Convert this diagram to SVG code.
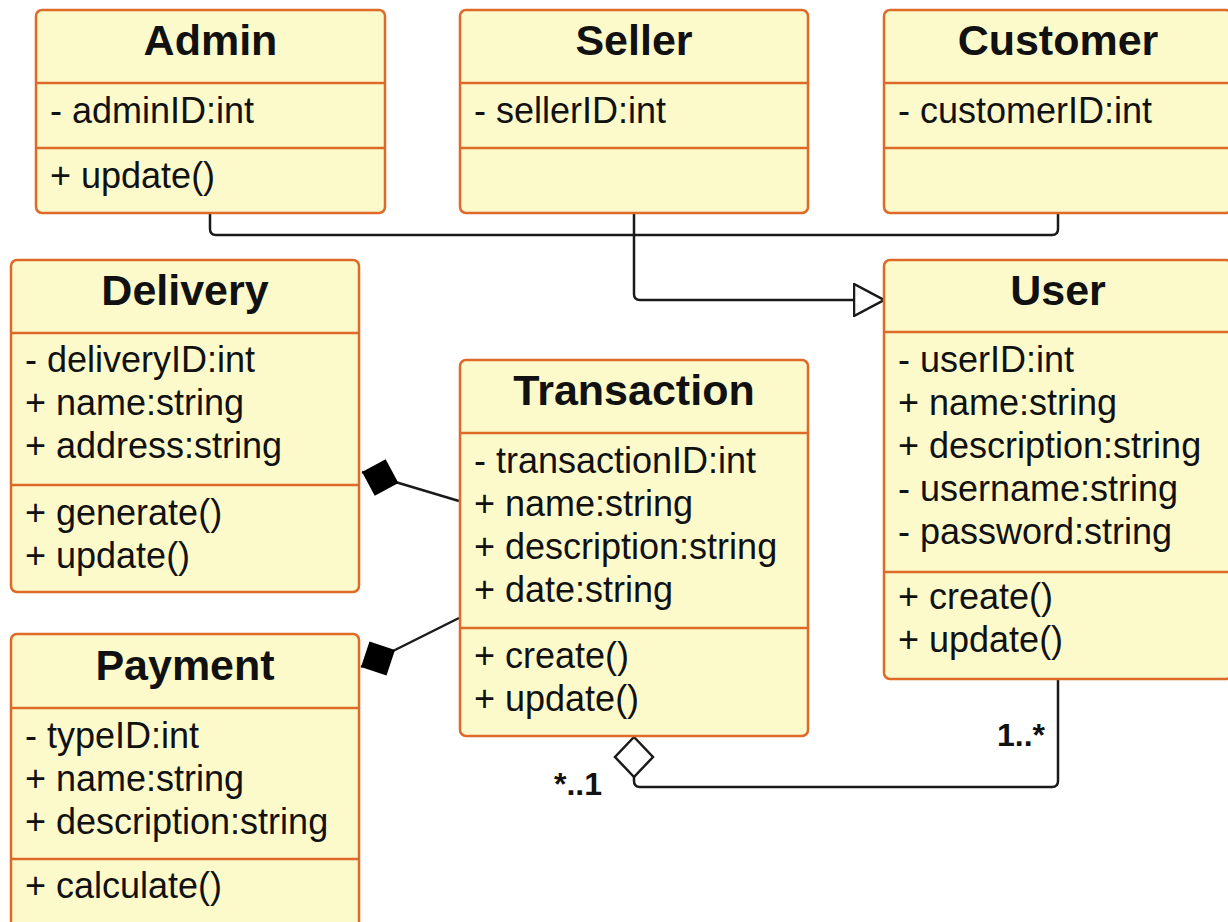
<svg xmlns="http://www.w3.org/2000/svg" width="1228" height="922" viewBox="0 0 1228 922">
  <style>
    .box { fill: #fcfacb; stroke: #df6a28; stroke-width: 2.5; }
    .div { stroke: #df6a28; stroke-width: 2.5; }
    .title { font-family: "Liberation Sans", Arial, sans-serif; font-size: 43px; font-weight: bold; fill: #111; text-anchor: middle; }
    .item { font-family: "Liberation Sans", Arial, sans-serif; font-size: 36px; fill: #111; }
    .mult { font-family: "Liberation Sans", Arial, sans-serif; font-size: 32px; font-weight: bold; fill: #111; }
    .edge { fill: none; stroke: #1a1a1a; stroke-width: 2.5; stroke-linejoin: round; }
  </style>
  <defs>
    <marker id="generalization" viewBox="0 0 32 34" refX="31" refY="17" markerWidth="32" markerHeight="34" markerUnits="userSpaceOnUse" orient="auto">
      <path d="M1,1 L31,17 L1,33 Z" fill="#fff" stroke="#1a1a1a" stroke-width="2.5" stroke-linejoin="miter"/>
    </marker>
    <marker id="composition" viewBox="0 0 40 40" refX="39" refY="20" markerWidth="40" markerHeight="40" markerUnits="userSpaceOnUse" orient="auto">
      <path d="M1,20 L20,1 L39,20 L20,39 Z" fill="#000"/>
    </marker>
  </defs>

  <rect width="1228" height="922" fill="#ffffff"/>

  <!-- connectors -->
  <g id="connectors">
    <!-- Admin / Customer branch joined to the Seller trunk -->
    <path class="edge" d="M210,213 V229 Q210,235 216,235 H1052 Q1058,235 1058,229 V213"/>
    <!-- generalization to User -->
    <path class="edge" d="M634,213 V294 Q634,300 640,300 H884" marker-end="url(#generalization)"/>
    <!-- composition: Transaction to Delivery -->
    <path class="edge" d="M459,501 L362,472" marker-end="url(#composition)"/>
    <!-- composition: Transaction to Payment -->
    <path class="edge" d="M459,618 L361,667" marker-end="url(#composition)"/>
    <!-- aggregation: User to Transaction -->
    <path class="edge" d="M1058,679 V781 Q1058,787 1052,787 H640 Q634,787 634,781 V777"/>
    <path d="M634,737 L653,757 L634,777 L615,757 Z" fill="#fff" stroke="#1a1a1a" stroke-width="2.5"/>
    <text class="mult" x="997" y="746">1..*</text>
    <text class="mult" x="554" y="795">*..1</text>
  </g>

  <g id="admin">
    <rect class="box" x="36" y="10" width="349" height="203" rx="6"/>
    <line class="div" x1="36" y1="83" x2="385" y2="83"/>
    <line class="div" x1="36" y1="148" x2="385" y2="148"/>
    <text class="title" x="210.5" y="55">Admin</text>
    <text class="item" x="50" y="123">- adminID:int</text>
    <text class="item" x="50" y="188">+ update()</text>
  </g>

  <g id="seller">
    <rect class="box" x="460" y="10" width="348" height="203" rx="6"/>
    <line class="div" x1="460" y1="83" x2="808" y2="83"/>
    <line class="div" x1="460" y1="148" x2="808" y2="148"/>
    <text class="title" x="634" y="55">Seller</text>
    <text class="item" x="474" y="123">- sellerID:int</text>
  </g>

  <g id="customer">
    <rect class="box" x="884" y="10" width="348" height="203" rx="6"/>
    <line class="div" x1="884" y1="83" x2="1232" y2="83"/>
    <line class="div" x1="884" y1="148" x2="1232" y2="148"/>
    <text class="title" x="1058" y="55">Customer</text>
    <text class="item" x="898" y="123">- customerID:int</text>
  </g>

  <g id="delivery">
    <rect class="box" x="11" y="260" width="348" height="332" rx="6"/>
    <line class="div" x1="11" y1="333" x2="359" y2="333"/>
    <line class="div" x1="11" y1="485" x2="359" y2="485"/>
    <text class="title" x="185" y="305">Delivery</text>
    <text class="item" x="25" y="372">- deliveryID:int</text>
    <text class="item" x="25" y="415">+ name:string</text>
    <text class="item" x="25" y="458">+ address:string</text>
    <text class="item" x="25" y="525">+ generate()</text>
    <text class="item" x="25" y="568">+ update()</text>
  </g>

  <g id="transaction">
    <rect class="box" x="460" y="360" width="348" height="376" rx="6"/>
    <line class="div" x1="460" y1="433" x2="808" y2="433"/>
    <line class="div" x1="460" y1="628" x2="808" y2="628"/>
    <text class="title" x="634" y="405">Transaction</text>
    <text class="item" x="474" y="473">- transactionID:int</text>
    <text class="item" x="474" y="516">+ name:string</text>
    <text class="item" x="474" y="559">+ description:string</text>
    <text class="item" x="474" y="602">+ date:string</text>
    <text class="item" x="474" y="668">+ create()</text>
    <text class="item" x="474" y="711">+ update()</text>
  </g>

  <g id="user">
    <rect class="box" x="884" y="260" width="348" height="419" rx="6"/>
    <line class="div" x1="884" y1="332" x2="1232" y2="332"/>
    <line class="div" x1="884" y1="572" x2="1232" y2="572"/>
    <text class="title" x="1058" y="305">User</text>
    <text class="item" x="898" y="372">- userID:int</text>
    <text class="item" x="898" y="415">+ name:string</text>
    <text class="item" x="898" y="458">+ description:string</text>
    <text class="item" x="898" y="501">- username:string</text>
    <text class="item" x="898" y="544">- password:string</text>
    <text class="item" x="898" y="609">+ create()</text>
    <text class="item" x="898" y="652">+ update()</text>
  </g>

  <g id="payment">
    <rect class="box" x="11" y="634" width="348" height="300" rx="6"/>
    <line class="div" x1="11" y1="708" x2="359" y2="708"/>
    <line class="div" x1="11" y1="859" x2="359" y2="859"/>
    <text class="title" x="185" y="680">Payment</text>
    <text class="item" x="25" y="748">- typeID:int</text>
    <text class="item" x="25" y="791">+ name:string</text>
    <text class="item" x="25" y="834">+ description:string</text>
    <text class="item" x="25" y="898">+ calculate()</text>
  </g>
</svg>
